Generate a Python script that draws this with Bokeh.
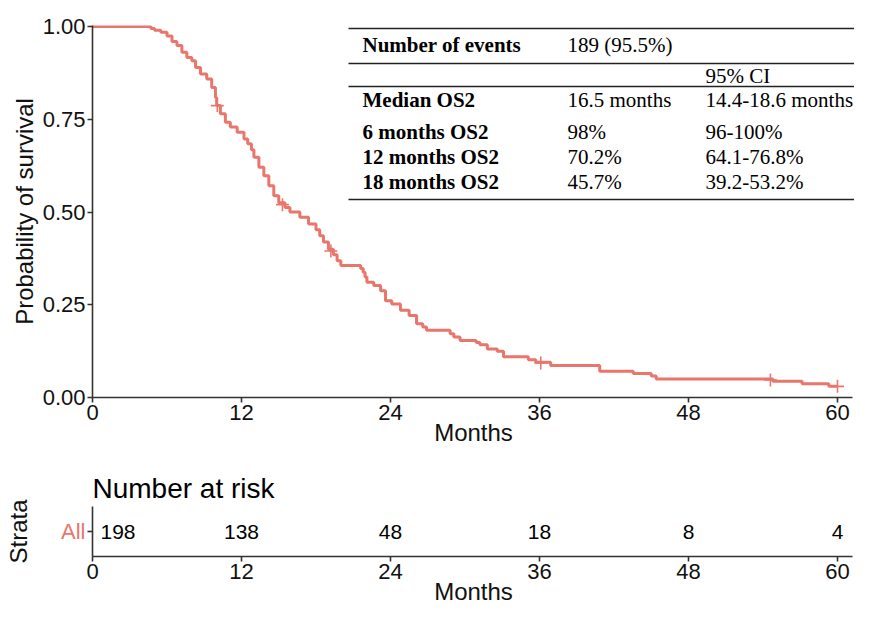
from bokeh.plotting import figure
from bokeh.models import Range1d, FixedTicker, Title
from bokeh.layouts import column
from bokeh.embed import file_html
from bokeh.resources import INLINE
from bokeh.core.properties import value

# ---------------- data ----------------
event_times = [4.7, 5.0, 5.5, 6.0, 6.4, 6.8, 7.2, 7.6, 8.0, 8.3, 8.7, 9.2, 9.6, 9.9,
               10.0, 10.3, 10.7, 11.1, 11.65, 12.2, 12.5, 12.8, 13.0, 13.4, 13.8,
               14.2, 14.6, 15.0, 15.5, 15.9, 16.7, 17.4, 18.0, 18.3, 18.6, 19.0,
               19.4, 19.7, 20.0, 21.6, 21.8, 21.95, 22.1, 22.65, 23.2, 23.6, 24.1,
               24.8, 25.5, 26.1, 26.6, 26.9, 28.8, 29.1, 29.6, 30.9, 31.2, 31.8,
               32.6, 33.1, 35.1, 35.7, 36.9, 40.85, 43.55, 45.0, 45.4, 54.8, 57.15,
               59.3]
surv_after = [0.995, 0.990, 0.985, 0.975, 0.960, 0.949, 0.931, 0.917, 0.908, 0.890,
              0.872, 0.859, 0.836, 0.809, 0.787, 0.765, 0.742, 0.729, 0.715, 0.697,
              0.684, 0.668, 0.648, 0.621, 0.598, 0.571, 0.544, 0.525, 0.512, 0.500,
              0.486, 0.468, 0.452, 0.436, 0.419, 0.400, 0.385, 0.369, 0.356, 0.348,
              0.338, 0.325, 0.311, 0.302, 0.288, 0.261, 0.252, 0.235, 0.221, 0.199,
              0.190, 0.181, 0.172, 0.163, 0.154, 0.148, 0.142, 0.131, 0.125, 0.110,
              0.102, 0.095, 0.086, 0.071, 0.065, 0.058, 0.050, 0.044, 0.037, 0.030]
last_time = 60.0
censor_times = [10.05, 15.3, 19.2, 36.1, 54.6, 60.0]
censor_surv = [0.787, 0.520, 0.395, 0.093, 0.047, 0.030]

x_ticks = [0, 12, 24, 36, 48, 60]
y_ticks = [0.0, 0.25, 0.50, 0.75, 1.00]
y_tick_labels = ["0.00", "0.25", "0.50", "0.75", "1.00"]

risk_times = [0, 12, 24, 36, 48, 60]
risk_counts = [198, 138, 48, 18, 8, 4]
strata = ["All"]

table_col1 = ["Number of events", "", "Median OS2", "6 months OS2", "12 months OS2", "18 months OS2"]
table_col2 = ["189 (95.5%)", "", "16.5 months", "98%", "70.2%", "45.7%"]
table_col3 = ["", "95% CI", "14.4-18.6 months", "96-100%", "64.1-76.8%", "39.2-53.2%"]

# ---------------- styling ----------------
KM = "#E8766D"
INK = "#111111"
AX = "#333333"
SANS = "Liberation Sans"
SERIF = "Liberation Serif"

W = 854
LEFT = 92
PX_PER_MONTH = 745 / 60
X_END = (W - LEFT) / PX_PER_MONTH
Y_END = 1.003
TOP = 25
FRAME_H = 372
H1 = 448
H2 = 159


def style_axes(p):
    for ax in p.axis:
        ax.axis_line_color = AX
        ax.axis_line_width = 1.6
        ax.major_tick_line_color = AX
        ax.major_tick_line_width = 1.6
        ax.major_tick_out = 5
        ax.major_tick_in = 0
        ax.minor_tick_line_color = None
        ax.major_label_text_font = SANS
        ax.major_label_text_font_size = "22px"
        ax.major_label_text_color = INK
        ax.major_label_standoff = 2
        ax.axis_label_text_font = SANS
        ax.axis_label_text_font_size = "24px"
        ax.axis_label_text_font_style = "normal"
        ax.axis_label_text_color = INK
        ax.axis_label_standoff = -4


# ---------------- main survival plot ----------------
p = figure(width=W, height=H1, output_backend="svg", toolbar_location=None,
           x_range=Range1d(0, X_END), y_range=Range1d(0, Y_END),
           min_border_left=LEFT, min_border_right=0, min_border_top=TOP,
           min_border_bottom=H1 - TOP - FRAME_H)
p.outline_line_color = None
p.grid.visible = False
p.background_fill_color = "white"

xs = [0.0] + event_times + [last_time]
ys = [1.0] + surv_after + [surv_after[-1]]
p.step(xs, ys, mode="after", line_color=KM, line_width=3.0)
p.scatter(censor_times, censor_surv, marker="cross", size=13,
          line_color=KM, line_width=1.6)

style_axes(p)
p.xaxis.ticker = FixedTicker(ticks=x_ticks)
p.xaxis.bounds = (0, 61.2)
p.yaxis.ticker = FixedTicker(ticks=y_ticks)
p.yaxis.major_label_overrides = {t: s for t, s in zip(y_ticks, y_tick_labels)}
p.yaxis.axis_label_standoff = 2
p.xaxis.axis_label = "Months"
p.yaxis.axis_label = "Probability of survival"


# picture pixel -> data coordinates of the main plot
def dx(px):
    return (px - LEFT) / PX_PER_MONTH


def dy(py):
    return (TOP + FRAME_H - py) / FRAME_H * Y_END


# summary table drawn inside the plot
row_y = [44.5, 75, 99, 131.5, 156, 181]
col_x = [362, 567, 705]
line_y = [28, 63, 86, 199]
p.segment(x0=[dx(348)] * len(line_y), x1=[dx(880)] * len(line_y),
          y0=[dy(v) for v in line_y], y1=[dy(v) for v in line_y],
          line_color="#222222", line_width=1.5)
ty = [dy(v) for v in row_y]
p.text(x=[dx(col_x[0])] * len(ty), y=ty, text=table_col1,
       text_font=value(SERIF), text_font_style="bold", text_font_size="21px",
       text_color="black", text_baseline="middle", text_align="left")
p.text(x=[dx(col_x[1])] * len(ty), y=ty, text=table_col2,
       text_font=value(SERIF), text_font_size="21px",
       text_color="black", text_baseline="middle", text_align="left")
p.text(x=[dx(col_x[2])] * len(ty), y=ty, text=table_col3,
       text_font=value(SERIF), text_font_size="21px",
       text_color="black", text_baseline="middle", text_align="left")

# ---------------- number at risk table ----------------
R_FRAME = 54
R_BOTTOM = 47
r = figure(width=W, height=H2, output_backend="svg", toolbar_location=None,
           x_range=Range1d(0, X_END), y_range=Range1d(0, 1),
           min_border_left=LEFT, min_border_right=0,
           min_border_top=H2 - R_FRAME - R_BOTTOM, min_border_bottom=R_BOTTOM)
r.outline_line_color = None
r.grid.visible = False
r.title = Title(text="Number at risk", align="left", text_font=SANS,
                text_font_size="28px", text_font_style="normal",
                text_color="black", offset=0, standoff=6)

style_axes(r)
r.xaxis.ticker = FixedTicker(ticks=x_ticks)
r.xaxis.bounds = (0, 61.2)
r.xaxis.axis_label = "Months"
r.yaxis.ticker = FixedTicker(ticks=[0.5])
r.yaxis.major_label_overrides = {0.5: strata[0]}
r.yaxis.major_label_text_color = KM
r.yaxis.axis_label = "Strata"
r.yaxis.axis_label_standoff = 26

r.text(x=risk_times[:1], y=[0.5], text=[str(v) for v in risk_counts[:1]],
       text_font=value(SANS), text_font_size="21px", text_color="black",
       text_baseline="middle", text_align="left", x_offset=8)
r.text(x=risk_times[1:], y=[0.5] * (len(risk_times) - 1),
       text=[str(v) for v in risk_counts[1:]],
       text_font=value(SANS), text_font_size="21px", text_color="black",
       text_baseline="middle", text_align="center")

layout = column(p, r, spacing=0)
open("out.html", "w").write(file_html(layout, INLINE))
